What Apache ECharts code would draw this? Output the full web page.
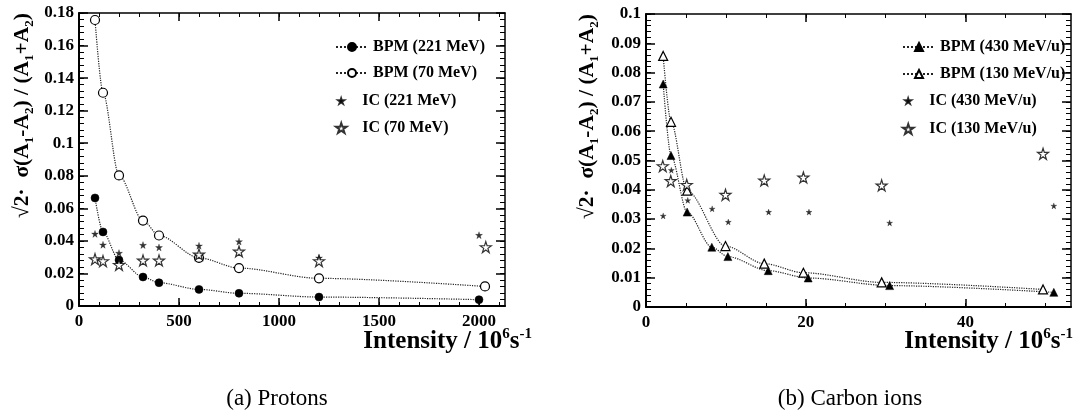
<!DOCTYPE html>
<html>
<head>
<meta charset="utf-8">
<script src="https://cdn.jsdelivr.net/npm/echarts@6/dist/echarts.min.js"></script>
<style>
html,body{margin:0;padding:0;background:#fff;}
#chart{width:1075px;height:414px;}
</style>
</head>
<body>
<div id="chart"></div>
<script>
// ---------- data: protons (left panel) ----------
const protonX221 = [80, 120, 200, 320, 400, 600, 800, 1200, 2000];
const bpm221 = [0.0664, 0.0455, 0.0282, 0.0178, 0.0143, 0.0102, 0.0078, 0.0055, 0.0039];
const protonX70 = [80, 120, 200, 320, 400, 600, 800, 1200, 2030];
const bpm70 = [0.1757, 0.131, 0.0802, 0.0525, 0.0433, 0.0296, 0.0233, 0.017, 0.012];
const icX221 = [80, 120, 200, 320, 400, 600, 800, 1200, 2000];
const ic221 = [0.0443, 0.0376, 0.0325, 0.0374, 0.036, 0.037, 0.0396, 0.0296, 0.0435];
const icX70 = [80, 120, 200, 320, 400, 600, 800, 1200, 2034];
const ic70 = [0.0288, 0.0276, 0.0253, 0.028, 0.028, 0.0317, 0.0335, 0.0276, 0.0362];

// ---------- data: carbon ions (right panel) ----------
const carbonX430 = [2.15, 3.13, 5.15, 8.24, 10.25, 15.3, 20.3, 30.5, 51.05];
const bpm430 = [0.0761, 0.0517, 0.0324, 0.0204, 0.0172, 0.0124, 0.0099, 0.0073, 0.005];
const carbonX130 = [2.15, 3.13, 5.15, 9.95, 14.8, 19.7, 29.5, 49.7];
const bpm130 = [0.0857, 0.0632, 0.0397, 0.0208, 0.0148, 0.0117, 0.0084, 0.006];
const icX430 = [2.15, 3.17, 5.23, 8.28, 10.3, 15.35, 20.4, 30.5, 51.05];
const ic430 = [0.0311, 0.0467, 0.0364, 0.0335, 0.029, 0.0324, 0.0324, 0.0287, 0.0345];
const icX130 = [2.1, 3.1, 5.1, 9.95, 14.8, 19.7, 29.5, 49.7];
const ic130 = [0.0481, 0.043, 0.0417, 0.0383, 0.0432, 0.0442, 0.0415, 0.0523];

// ---------- ticks ----------
const leftXTicks = [0, 500, 1000, 1500, 2000];
const leftYTicks = [0, 0.02, 0.04, 0.06, 0.08, 0.1, 0.12, 0.14, 0.16, 0.18];
const rightXTicks = [0, 20, 40];
const rightYTicks = [0, 0.01, 0.02, 0.03, 0.04, 0.05, 0.06, 0.07, 0.08, 0.09, 0.1];
const leftXRange = [0, 2130], leftYRange = [0, 0.18];
const rightXRange = [0, 53.2], rightYRange = [0, 0.1];
const leftXMinorStep = 100, leftYMinorStep = 0.004;
const rightXMinorStep = 5, rightYMinorStep = 0.002;

const legendLeft = ['BPM (221 MeV)', 'BPM (70 MeV)', 'IC (221 MeV)', 'IC (70 MeV)'];
const legendRight = ['BPM (430 MeV/u)', 'BPM (130 MeV/u)', 'IC (430 MeV/u)', 'IC (130 MeV/u)'];

const FONT = "'Liberation Serif', 'DejaVu Serif', 'Times New Roman', serif";
const STAR_D = 'M50,0L61.2,34.5L97.6,34.5L68.2,55.9L79.4,90.5L50,69.1L20.6,90.5L31.8,55.9L2.4,34.5L38.8,34.5Z';
const STAR = 'path://' + STAR_D;
// same star with an empty margin, so it shows smaller in a legend slot
const STAR_SMALL_ICON = 'path://M-35,-37M135,128' + STAR_D;

function minorTicks(range, step) {
  const out = [];
  for (let v = range[0]; v <= range[1] + 1e-12; v += step) out.push(Math.round(v * 1e6) / 1e6);
  return out;
}
function pairs(xs, ys) { return xs.map((x, i) => [x, ys[i]]); }
const plainLabel = v => String(Math.round(v * 1e6) / 1e6);

function xAxes(grid, range, majors, minorStep) {
  const minors = minorTicks(range, minorStep);
  const base = { type: 'value', gridIndex: grid, min: range[0], max: range[1], splitLine: { show: false } };
  return [
    Object.assign({}, base, { position: 'bottom',
      axisLine: { show: true, onZero: false, lineStyle: { color: '#000', width: 2 } },
      axisTick: { show: true, inside: true, length: 8, customValues: majors, lineStyle: { color: '#000', width: 1.5 } },
      axisLabel: { show: true, customValues: majors, formatter: plainLabel, margin: 7, color: '#000', fontFamily: FONT, fontWeight: 'bold', fontSize: 17 } }),
    Object.assign({}, base, { position: 'bottom',
      axisLine: { show: false, onZero: false },
      axisTick: { show: true, inside: true, length: 4, customValues: minors, lineStyle: { color: '#000', width: 1 } },
      axisLabel: { show: false } }),
    Object.assign({}, base, { position: 'top',
      axisLine: { show: true, onZero: false, lineStyle: { color: '#000', width: 1.5 } },
      axisTick: { show: true, inside: true, length: 8, customValues: majors, lineStyle: { color: '#000', width: 1.5 } },
      axisLabel: { show: false } }),
    Object.assign({}, base, { position: 'top',
      axisLine: { show: false, onZero: false },
      axisTick: { show: true, inside: true, length: 4, customValues: minors, lineStyle: { color: '#000', width: 1 } },
      axisLabel: { show: false } })
  ];
}
function yAxes(grid, range, majors, minorStep) {
  const minors = minorTicks(range, minorStep);
  const base = { type: 'value', gridIndex: grid, min: range[0], max: range[1], splitLine: { show: false } };
  return [
    Object.assign({}, base, { position: 'left',
      axisLine: { show: true, onZero: false, lineStyle: { color: '#000', width: 2 } },
      axisTick: { show: true, inside: true, length: 9, customValues: majors, lineStyle: { color: '#000', width: 1.5 } },
      axisLabel: { show: true, customValues: majors, formatter: plainLabel, margin: 5, color: '#000', fontFamily: FONT, fontWeight: 'bold', fontSize: 17 } }),
    Object.assign({}, base, { position: 'left',
      axisLine: { show: false, onZero: false },
      axisTick: { show: true, inside: true, length: 5, customValues: minors, lineStyle: { color: '#000', width: 1 } },
      axisLabel: { show: false } }),
    Object.assign({}, base, { position: 'right',
      axisLine: { show: true, onZero: false, lineStyle: { color: '#000', width: 1.5 } },
      axisTick: { show: true, inside: true, length: 9, customValues: majors, lineStyle: { color: '#000', width: 1.5 } },
      axisLabel: { show: false } }),
    Object.assign({}, base, { position: 'right',
      axisLine: { show: false, onZero: false },
      axisTick: { show: true, inside: true, length: 5, customValues: minors, lineStyle: { color: '#000', width: 1 } },
      axisLabel: { show: false } })
  ];
}

const fitLine = { type: 'dotted', color: '#222', width: 1.2 };

function bpmSeries(name, xi, yi, xs, ys, symbol, size, filled) {
  return {
    name: name, type: 'line', xAxisIndex: xi, yAxisIndex: yi,
    data: pairs(xs, ys), smooth: 0.3, smoothMonotone: 'x',
    symbol: symbol, symbolSize: size, showAllSymbol: true,
    lineStyle: fitLine,
    itemStyle: filled ? { color: '#000', borderColor: '#000', borderWidth: 0.5 }
                      : { color: '#fff', borderColor: '#000', borderWidth: 1.2 },
    z: 3
  };
}
function icSeries(name, xi, yi, xs, ys, size, filled) {
  return {
    name: name, type: 'scatter', xAxisIndex: xi, yAxisIndex: yi,
    data: pairs(xs, ys), symbol: STAR, symbolSize: size,
    itemStyle: filled ? { color: '#000', borderColor: '#000', borderWidth: 0.3 }
                      : { color: '#fff', borderColor: '#000', borderWidth: 1.2 },
    z: 4
  };
}

function legendItem(name, left, rowY, icon) {
  const d = icon ? { name: name, icon: icon } : name;
  return {
    data: [d], left: left, top: rowY - 9, orient: 'vertical', padding: 0,
    itemWidth: 32, itemHeight: 10, selectedMode: false, symbolKeepAspect: true,
    textStyle: { color: '#000', fontFamily: FONT, fontWeight: 'bold', fontSize: 16 }
  };
}

const titleRich = {
  s: { fontFamily: FONT, fontWeight: 'bold', fontSize: 13, verticalAlign: 'bottom', lineHeight: 13, fill: '#000' },
  u: { fontFamily: FONT, fontWeight: 'bold', fontSize: 15, verticalAlign: 'top', lineHeight: 15, fill: '#000' }
};
function yTitle(x, y) {
  return {
    type: 'text', x: x, y: y, rotation: Math.PI / 2,
    style: {
      text: '√2·  σ(A{s|1}-A{s|2}) / (A{s|1}+A{s|2})',
      fontFamily: FONT, fontWeight: 'bold', fontSize: 21.5, lineHeight: 29,
      fill: '#000', align: 'right', verticalAlign: 'middle', rich: titleRich
    }
  };
}
function xTitle(x, y) {
  return {
    type: 'text', x: x, y: y,
    style: {
      text: 'Intensity / 10{u|6}s{u|-1}',
      fontFamily: FONT, fontWeight: 'bold', fontSize: 25, lineHeight: 31,
      fill: '#000', align: 'right', verticalAlign: 'middle', rich: titleRich
    }
  };
}
function caption(text, x, y) {
  return {
    type: 'text', x: x, y: y,
    style: { text: text, fontFamily: FONT, fontSize: 23, fill: '#000', align: 'center', verticalAlign: 'middle' }
  };
}

const chart = echarts.init(document.getElementById('chart'), null, { renderer: 'canvas' });
const option = {
  animation: false,
  backgroundColor: '#fff',
  grid: [
    { left: 79, top: 13, width: 426, height: 293, containLabel: false },
    { left: 646, top: 14, width: 425, height: 293, containLabel: false }
  ],
  xAxis: [].concat(xAxes(0, leftXRange, leftXTicks, leftXMinorStep), xAxes(1, rightXRange, rightXTicks, rightXMinorStep)),
  yAxis: [].concat(yAxes(0, leftYRange, leftYTicks, leftYMinorStep), yAxes(1, rightYRange, rightYTicks, rightYMinorStep)),
  legend: [
    legendItem(legendLeft[0], 335, 48),
    legendItem(legendLeft[1], 335, 74),
    legendItem(legendLeft[2], 335, 102, STAR_SMALL_ICON),
    legendItem(legendLeft[3], 335, 129),
    legendItem(legendRight[0], 902, 48),
    legendItem(legendRight[1], 902, 75),
    legendItem(legendRight[2], 902, 102, STAR_SMALL_ICON),
    legendItem(legendRight[3], 902, 130)
  ],
  series: [
    bpmSeries(legendLeft[0], 0, 0, protonX221, bpm221, 'circle', 8, true),
    bpmSeries(legendLeft[1], 0, 0, protonX70, bpm70, 'circle', 9, false),
    icSeries(legendLeft[2], 0, 0, icX221, ic221, 7, true),
    icSeries(legendLeft[3], 0, 0, icX70, ic70, 11, false),
    bpmSeries(legendRight[0], 4, 4, carbonX430, bpm430, 'triangle', 8, true),
    bpmSeries(legendRight[1], 4, 4, carbonX130, bpm130, 'triangle', 9, false),
    icSeries(legendRight[2], 4, 4, icX430, ic430, 6, true),
    icSeries(legendRight[3], 4, 4, icX130, ic130, 11, false)
  ],
  graphic: [
    yTitle(22, 13),
    yTitle(587, 14),
    xTitle(532, 342),
    xTitle(1073, 342),
    caption('(a) Protons', 277, 399),
    caption('(b) Carbon ions', 850, 399)
  ]
};
chart.setOption(option);
</script>
</body>
</html>
